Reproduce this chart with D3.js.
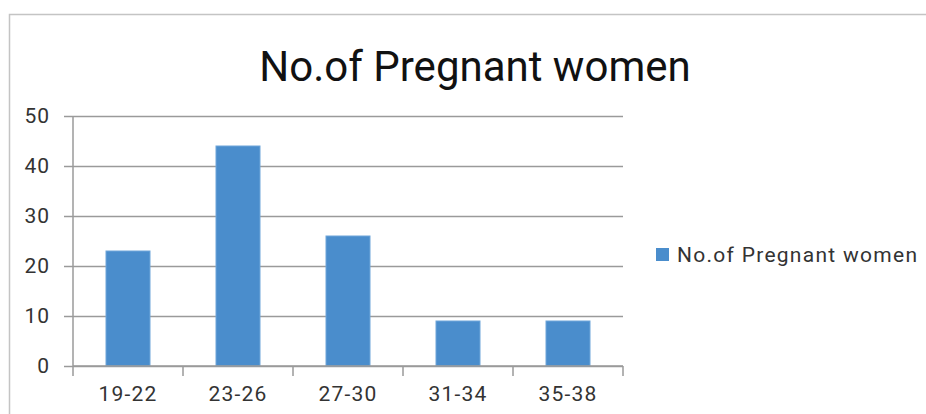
<!DOCTYPE html>
<html>
<head>
<meta charset="utf-8">
<script src="https://cdn.jsdelivr.net/npm/d3@7"></script>
<style>
  html, body { margin: 0; padding: 0; background: #fff; }
  svg { display: block; font-family: Roboto, "Noto Sans", sans-serif; }
</style>
</head>
<body>
<svg id="chart" width="926" height="414"></svg>
<script>
// Age groups and counts of pregnant women in each
const categories = ["19-22", "23-26", "27-30", "31-34", "35-38"];
const counts = [23, 44, 26, 9, 9];
const yTicks = [0, 10, 20, 30, 40, 50];
const seriesName = "No.of Pregnant women";
const titleText = "No.of Pregnant women";

const svg = d3.select("#chart");
const W = 926, H = 414;

// Chart frame
svg.append("rect")
  .attr("x", 9.5).attr("y", 14.5)
  .attr("width", W).attr("height", H)
  .attr("fill", "#fff").attr("stroke", "#c4c4c4").attr("stroke-width", 1.5);

// Title
svg.append("text")
  .attr("x", 475).attr("y", 81)
  .attr("text-anchor", "middle")
  .attr("font-size", 42)
  .attr("fill", "#111")
  .text(titleText);

const plot = { left: 73, right: 623, top: 116, bottom: 366 };

const x = d3.scaleBand()
  .domain(categories)
  .range([plot.left, plot.right])
  .paddingInner(0.6).paddingOuter(0.3);

const xTick = d3.scaleBand()
  .domain(categories)
  .range([plot.left, plot.right]);

const y = d3.scaleLinear()
  .domain([0, 50])
  .range([plot.bottom, plot.top]);

// Horizontal gridlines with short tick stubs on the left
const yAxis = d3.axisLeft(y)
  .tickValues(yTicks)
  .tickSize(-(plot.right - plot.left))
  .tickPadding(23)
  .tickFormat(d3.format("d"));

const gy = svg.append("g")
  .attr("transform", `translate(${plot.left},0)`)
  .call(yAxis);
gy.select(".domain").remove();
gy.selectAll(".tick line")
  .attr("stroke", "#9a9a9a").attr("stroke-width", 1.5)
  .attr("x1", -9);
gy.selectAll(".tick text")
  .attr("font-size", 21)
  .attr("fill", "#333")
  .attr("font-family", "Roboto, sans-serif")
  .attr("letter-spacing", 1);

// Vertical axis line
svg.append("line")
  .attr("x1", plot.left).attr("x2", plot.left)
  .attr("y1", plot.top).attr("y2", plot.bottom)
  .attr("stroke", "#9a9a9a").attr("stroke-width", 1.5);

// Bars
svg.append("g").selectAll("rect")
  .data(categories.map((c, i) => ({ c, v: counts[i] })))
  .join("rect")
  .attr("x", d => x(d.c))
  .attr("y", d => y(d.v))
  .attr("width", x.bandwidth())
  .attr("height", d => y(0) - y(d.v))
  .attr("fill", "#4a8dcc")
  .attr("stroke", "#6ea6da")
  .attr("stroke-width", 1);

// Category axis
const gx = svg.append("g")
  .attr("transform", `translate(0,${plot.bottom})`);
gx.append("line")
  .attr("x1", plot.left).attr("x2", plot.right)
  .attr("stroke", "#9a9a9a").attr("stroke-width", 1.5);
const boundaries = categories.map(c => xTick(c)).concat([plot.right]);
gx.selectAll("line.tk")
  .data(boundaries)
  .join("line").attr("class", "tk")
  .attr("x1", d => d).attr("x2", d => d)
  .attr("y1", 0).attr("y2", 10)
  .attr("stroke", "#9a9a9a").attr("stroke-width", 1.5);
gx.selectAll("text")
  .data(categories)
  .join("text")
  .attr("x", d => xTick(d) + xTick.bandwidth() / 2)
  .attr("y", 35)
  .attr("text-anchor", "middle")
  .attr("font-size", 21)
  .attr("letter-spacing", 1.2)
  .attr("fill", "#333")
  .text(d => d);

// Legend
const lg = svg.append("g").attr("transform", "translate(656,248)");
lg.append("rect")
  .attr("width", 13).attr("height", 13)
  .attr("fill", "#4a8dcc");
lg.append("text")
  .attr("x", 21).attr("y", 14)
  .attr("font-size", 21)
  .attr("fill", "#333")
  .attr("textLength", 240)
  .attr("lengthAdjust", "spacing")
  .text(seriesName);
</script>
</body>
</html>
